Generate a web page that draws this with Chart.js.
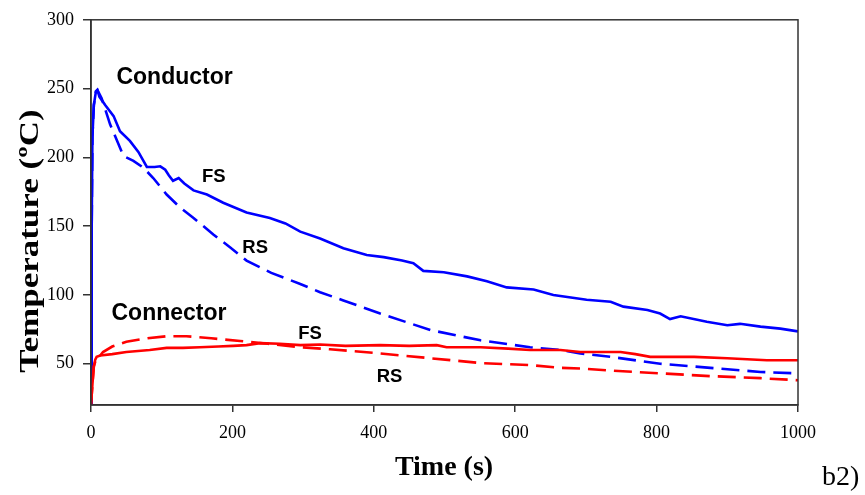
<!DOCTYPE html>
<html>
<head>
<meta charset="utf-8">
<script src="https://cdn.jsdelivr.net/npm/chart.js@4.4.1/dist/chart.umd.min.js"></script>
<style>
    html, body { margin: 0; padding: 0; background: #fff; }
    #tempChart { display: block; }
</style>
</head>
<body>
<canvas id="tempChart" width="865" height="495"></canvas>
<script>
// Axis ticks
const xTicks = [0, 200, 400, 600, 800, 1000];
const yTicks = [50, 100, 150, 200, 250, 300];

// Conductor, FS (solid blue)
const condFsTime = [0, 1, 2, 4, 7, 9, 12, 20, 32, 41, 55, 67, 79, 90, 98, 105, 110, 116, 124, 132, 145, 164, 187, 220, 253, 275, 296, 324, 357, 390, 414, 440, 456, 470, 499, 532, 560, 588, 626, 654, 701, 735, 753, 787, 805, 819, 834, 871, 900, 918, 947, 975, 1000];
const condFsTemp = [20, 150, 215, 238, 248, 249, 244, 238, 230, 219, 212, 204, 193, 193, 193.5, 191, 187, 183, 185, 181, 176, 173, 167, 160, 156, 152, 146, 141, 134, 129, 127.5, 125, 123, 117.5, 116.5, 113.5, 110, 105.5, 104, 100, 96.5, 95, 91.5, 89, 86.5, 82.5, 84.5, 80.5, 78, 79, 77, 75.5, 73.5];

// Conductor, RS (dashed blue)
const condRsTime = [0, 1, 2, 4, 7, 9, 15, 27, 46, 60, 74, 88, 107, 126, 145, 173, 197, 220, 255, 296, 324, 357, 409, 480, 551, 621, 664, 692, 735, 805, 876, 947, 1000];
const condRsTemp = [20, 150, 215, 238, 248, 249, 243, 224, 201, 197.5, 192.5, 185, 173, 163.5, 156, 144, 134.5, 125, 116, 108, 102, 96, 86.5, 74.5, 67, 62, 60, 57.5, 55, 50, 47, 44, 43];

// Connector, FS (solid red)
const connFsTime = [0, 2, 4, 6, 8, 13, 30, 50, 83, 107, 130, 154, 180, 201, 220, 239, 267, 296, 324, 360, 409, 450, 489, 503, 551, 590, 621, 664, 692, 749, 770, 791, 853, 900, 956, 1000];
const connFsTemp = [20, 35, 48, 53, 55, 56, 57, 58.5, 60, 61.5, 61.5, 62, 62.5, 63, 63.5, 65, 64.5, 63.5, 64, 63, 63.5, 63, 63.5, 62, 62, 61, 60, 60, 58.5, 58.5, 57, 55, 55, 54, 52.5, 52.5];

// Connector, RS (dashed red)
const connRsTime = [0, 2, 4, 8, 13, 17, 30, 50, 80, 107, 135, 170, 211, 250, 296, 338, 409, 480, 551, 621, 664, 692, 735, 805, 876, 947, 1000];
const connRsTemp = [20, 35, 48, 55, 56, 58.5, 62.5, 66, 68.5, 70, 70, 68.5, 66.5, 64.5, 62, 60.5, 57.5, 54, 50.5, 49, 47, 46.5, 45, 43, 41, 39.5, 38];

// Text labels placed in data coordinates (left edge, baseline)
const labels = [
    { text: 'Conductor', t: 36, temp: 253, size: 23 },
    { text: 'FS', t: 157, temp: 182, size: 18.5 },
    { text: 'RS', t: 214, temp: 130.5, size: 18.5 },
    { text: 'Connector', t: 29, temp: 82, size: 23 },
    { text: 'FS', t: 293, temp: 68.3, size: 18.5 },
    { text: 'RS', t: 404, temp: 37, size: 18.5 }
];

function toPoints(times, temps) {
    return times.map((t, i) => ({ x: t, y: temps[i] }));
}

function makeSeries(label, times, temps, color, dashed) {
    return {
        label: label,
        data: toPoints(times, temps),
        borderColor: color,
        backgroundColor: color,
        borderWidth: 2.6,
        borderDash: dashed ? [18, 8] : [],
        pointRadius: 0,
        tension: 0,
        fill: false
    };
}

// Frame, annotations and axis titles
const textPlugin = {
    id: 'textPlugin',
    afterDraw(chart) {
        const ctx = chart.ctx;
        const area = chart.chartArea;
        const xs = chart.scales.x;
        const ys = chart.scales.y;

        ctx.save();
        ctx.strokeStyle = '#333';
        ctx.lineWidth = 1.5;
        ctx.strokeRect(area.left, area.top, area.right - area.left, area.bottom - area.top);

        ctx.fillStyle = '#000';
        ctx.textAlign = 'left';
        ctx.textBaseline = 'alphabetic';
        labels.forEach(l => {
            ctx.font = 'bold ' + l.size + 'px "Liberation Sans", Arial, sans-serif';
            ctx.fillText(l.text, xs.getPixelForValue(l.t), ys.getPixelForValue(l.temp));
        });

        // x title
        ctx.textAlign = 'center';
        ctx.font = 'bold 28px "Liberation Serif", "Times New Roman", serif';
        ctx.fillText('Time (s)', 444, 475);

        // y title (stretched like the original)
        ctx.save();
        ctx.translate(38, 241);
        ctx.rotate(-Math.PI / 2);
        ctx.scale(1.25, 1);
        ctx.fillText('Temperature (ºC)', 0, 0);
        ctx.restore();

        // panel tag
        ctx.textAlign = 'left';
        ctx.font = '28px "Liberation Serif", "Times New Roman", serif';
        ctx.fillText('b2)', 822, 485);
        ctx.restore();
    }
};

// Initialize chart
function initChart() {
    const ctx = document.getElementById('tempChart').getContext('2d');
    const tickFont = { family: '"Liberation Serif", "Times New Roman", serif', size: 18 };

    new Chart(ctx, {
        type: 'line',
        data: {
            datasets: [
                makeSeries('Connector FS', connFsTime, connFsTemp, '#ff0000', false),
                makeSeries('Connector RS', connRsTime, connRsTemp, '#ff0000', true),
                makeSeries('Conductor RS', condRsTime, condRsTemp, '#0000ff', true),
                makeSeries('Conductor FS', condFsTime, condFsTemp, '#0000ff', false)
            ]
        },
        options: {
            responsive: false,
            animation: false,
            devicePixelRatio: 1,
            layout: {
                padding: { top: 18, right: 67, left: 0, bottom: 0 }
            },
            scales: {
                x: {
                    type: 'linear',
                    min: 0,
                    max: 1000,
                    afterBuildTicks: (scale) => {
                        scale.ticks = xTicks.map(v => ({ value: v }));
                    },
                    afterFit: (scale) => {
                        scale.height = 90;
                    },
                    ticks: {
                        color: '#000',
                        font: tickFont,
                        padding: 10,
                        maxRotation: 0,
                        callback: (v) => String(v)
                    },
                    grid: {
                        drawOnChartArea: false,
                        drawTicks: true,
                        tickLength: 7,
                        color: '#333',
                        lineWidth: 1.5
                    },
                    border: { display: true, color: '#333', width: 1.5 }
                },
                y: {
                    type: 'linear',
                    min: 20,
                    max: 300,
                    afterBuildTicks: (scale) => {
                        scale.ticks = yTicks.map(v => ({ value: v }));
                    },
                    afterFit: (scale) => {
                        scale.width = 91;
                    },
                    ticks: {
                        color: '#000',
                        font: tickFont,
                        padding: 9,
                        callback: (v) => String(v)
                    },
                    grid: {
                        drawOnChartArea: false,
                        drawTicks: true,
                        tickLength: 8,
                        color: '#333',
                        lineWidth: 1.5
                    },
                    border: { display: true, color: '#333', width: 1.5 }
                }
            },
            plugins: {
                legend: { display: false },
                tooltip: { enabled: false }
            }
        },
        plugins: [textPlugin]
    });
}

window.addEventListener('load', () => {
    initChart();
});
</script>
</body>
</html>
